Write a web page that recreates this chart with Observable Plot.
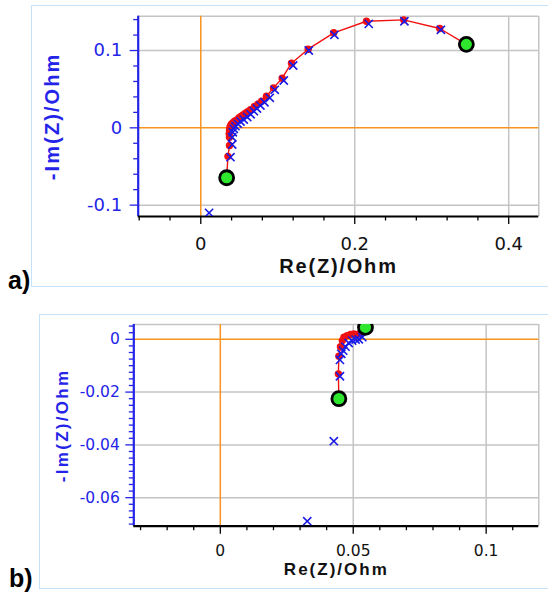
<!DOCTYPE html>
<html><head><meta charset="utf-8">
<script src="https://cdn.jsdelivr.net/npm/d3@7"></script>
<script src="https://cdn.jsdelivr.net/npm/@observablehq/plot@0.6"></script>
<style>
body{margin:0;background:#fff;}
#wrap{position:relative;width:548px;height:593px;overflow:hidden;font-family:"Liberation Sans",Arial,sans-serif;}
.frame{position:absolute;border:1.5px solid #c6e2fa;box-sizing:border-box;}
.tag{position:absolute;font-weight:bold;font-size:25px;color:#000;line-height:1;}
.panel{position:absolute;left:0;}
</style></head><body>
<div id="wrap">
  <div class="frame" style="left:31px;top:5px;width:540px;height:282px"></div>
  <div class="frame" style="left:39px;top:313.5px;width:540px;height:275.5px"></div>
  <div class="tag" style="left:8px;top:268px">a)</div>
  <div class="tag" style="left:9px;top:566px">b)</div>
  <div id="pa" class="panel" style="top:0"></div>
  <div id="pb" class="panel" style="top:300px"></div>
</div>
<script>
// ---------- Panel a data ----------
const redA_re = [0.0336, 0.0353, 0.0373, 0.0373, 0.0369, 0.0373, 0.0378, 0.0388, 0.0400, 0.0421, 0.0440, 0.0462, 0.0494, 0.0520, 0.0548, 0.0580, 0.0610, 0.0645, 0.0697, 0.0745, 0.0790, 0.0853, 0.0944, 0.1057, 0.1178, 0.1395, 0.1727, 0.2152, 0.2636, 0.3104, 0.3450];
const redA_im = [-0.0646, -0.0369, -0.0229, -0.0122, -0.0078, -0.0035, 0.0004, 0.0030, 0.0050, 0.0069, 0.0085, 0.0100, 0.0129, 0.0148, 0.0165, 0.0189, 0.0210, 0.0235, 0.0276, 0.0310, 0.0345, 0.0409, 0.0517, 0.0642, 0.0836, 0.1017, 0.1229, 0.1379, 0.1397, 0.1285, 0.1080];
const blueA_re = [0.0108, 0.0386, 0.0408, 0.0408, 0.0416, 0.0429, 0.0451, 0.0481, 0.0516, 0.0558, 0.0603, 0.0648, 0.0690, 0.0730, 0.0775, 0.0827, 0.0896, 0.0961, 0.1078, 0.1200, 0.1403, 0.1736, 0.2182, 0.2645, 0.3119];
const blueA_im = [-0.1100, -0.0380, -0.0216, -0.0122, -0.0057, -0.0013, 0.0021, 0.0052, 0.0082, 0.0107, 0.0140, 0.0175, 0.0215, 0.0250, 0.0288, 0.0331, 0.0388, 0.0492, 0.0612, 0.0806, 0.1000, 0.1203, 0.1345, 0.1379, 0.1268];
const greenA_re = [0.0336, 0.3450];
const greenA_im = [-0.0646, 0.1080];
const aXTicks = [0, 0.2, 0.4];
const aXLabels = ["0", "0.2", "0.4"];
const aYTicks = [-0.1, 0, 0.1];
const aYLabels = ["-0.1", "0", "0.1"];
const aXMinor = [-0.08, -0.04, 0.04, 0.08, 0.12, 0.16, 0.24, 0.28, 0.32, 0.36];
const aYMinor = [-0.08, -0.06, -0.04, -0.02, 0.02, 0.04, 0.06, 0.08, 0.12, 0.14];

// ---------- Panel b data ----------
const redB_re = [0.0446, 0.0444, 0.0446, 0.0452, 0.0459, 0.0465, 0.0477, 0.0490, 0.0502, 0.0515, 0.0527, 0.0546];
const redB_im = [-0.0225, -0.0131, -0.0064, -0.0028, -0.0005, 0.0008, 0.0014, 0.0018, 0.0020, 0.0018, 0.0023, 0.0045];
const blueB_re = [0.0327, 0.0427, 0.0450, 0.0450, 0.0455, 0.0462, 0.0471, 0.0483, 0.0496, 0.0509, 0.0521, 0.0534];
const blueB_im = [-0.0689, -0.0386, -0.0140, -0.0078, -0.0055, -0.0043, -0.0028, -0.0014, -0.0005, -0.0001, 0.0000, 0.0008];
const greenB_re = [0.0446, 0.0546];
const greenB_im = [-0.0225, 0.0045];
const bXTicks = [0, 0.05, 0.1];
const bXLabels = ["0", "0.05", "0.1"];
const bYTicks = [-0.06, -0.04, -0.02, 0];
const bYLabels = ["-0.06", "-0.04", "-0.02", "0"];
const bXMinor = [-0.03, -0.02, -0.01, 0.01, 0.02, 0.03, 0.04, 0.06, 0.07, 0.08, 0.09, 0.11];
const bYMinor = d3.range(-0.07, 0.0051, 0.0025).map(v => +v.toFixed(4)).filter(v => !bYTicks.some(t => Math.abs(t - v) < 1e-6));

const BLUE = "#2424e8", XBLUE = "#1a1ae6", RED = "#f01010", GREEN = "#2ee62e", ORANGE = "#f7931e", GRID = "#c4c4c4";
const FONT = "Liberation Sans, Arial, sans-serif";
const TICKFONT = "'DejaVu Sans', Verdana, sans-serif";

function pts(xs, ys) { return xs.map((x, i) => ({x, y: ys[i]})); }

function panel(o) {
  const red = pts(o.redRe, o.redIm), blue = pts(o.blueRe, o.blueIm), green = pts(o.greenRe, o.greenIm);
  const [x0, x1] = o.xDomain, [y0, y1] = o.yDomain;
  const svg = Plot.plot({
    width: 548, height: o.height,
    marginLeft: o.ml, marginRight: o.mr, marginTop: o.mt, marginBottom: o.mb,
    x: {domain: o.xDomain},
    y: {domain: o.yDomain},
    style: {background: "transparent", fontFamily: FONT, overflow: "visible"},
    marks: [
      Plot.gridX(o.xTicks.filter(d => d !== 0), {stroke: GRID, strokeOpacity: 1, strokeWidth: 1.5}),
      Plot.gridY(o.yTicks.filter(d => d !== 0), {stroke: GRID, strokeOpacity: 1, strokeWidth: 1.5}),
      Plot.ruleY([y1], {stroke: GRID, strokeWidth: 1.5}),
      Plot.ruleX([x1], {stroke: GRID, strokeWidth: 1.5}),
      Plot.ruleX([0], {stroke: ORANGE, strokeWidth: 1.5}),
      Plot.ruleY([0], {stroke: ORANGE, strokeWidth: 1.5}),
      Plot.axisY(o.yMinor, {tickSize: o.minorTick, tickFormat: () => "", color: BLUE, strokeWidth: 1.3, label: null}),
      Plot.axisY(o.yTicks, {tickSize: o.majorTick, tickPadding: o.yPad, tickFormat: d => o.yLabels[o.yTicks.indexOf(d)], color: BLUE, strokeWidth: 1.3, fontSize: o.tickFont, label: null}),
      Plot.axisX(o.xMinor, {tickSize: o.minorTick, tickFormat: () => "", color: "#000", strokeWidth: 1.3, label: null}),
      Plot.axisX(o.xTicks, {tickSize: o.majorTick, tickPadding: o.xPad, tickFormat: d => o.xLabels[o.xTicks.indexOf(d)], color: "#000", fill: "#111", strokeWidth: 1.3, fontSize: o.tickFont, label: null}),
      Plot.ruleX([x0], {stroke: BLUE, strokeWidth: 2.2}),
      Plot.ruleY([y0], {stroke: "#000", strokeWidth: 2.2}),
      Plot.line(red, {x: "x", y: "y", stroke: RED, strokeWidth: 1.4, clip: true}),
      Plot.dot(red, {x: "x", y: "y", r: 3.7, fill: RED, clip: true}),
      Plot.dot(blue, {x: "x", y: "y", r: 3.8, symbol: "times", stroke: XBLUE, strokeWidth: 1.6, clip: true}),
      Plot.dot(green, {x: "x", y: "y", r: 7, fill: GREEN, stroke: "#000", strokeWidth: 2.8, clip: true}),
      Plot.text(["Re(Z)/Ohm"], {frameAnchor: "bottom", dy: o.xTitleDy, fontSize: o.titleFont, fontWeight: "bold", fill: "#111", lineAnchor: "middle"}),
      Plot.text(["-Im(Z)/Ohm"], {frameAnchor: "left", dx: o.yTitleDx, rotate: -90, fontSize: o.titleFont, fontWeight: "bold", fill: BLUE, lineAnchor: "middle", textAnchor: "middle"})
    ]
  });
  const s = d3.select(svg);
  s.selectAll("text")
    .filter(function() { return this.textContent === "Re(Z)/Ohm"; })
    .attr("letter-spacing", o.xSpacing);
  s.selectAll("text")
    .filter(function() { return this.textContent === "-Im(Z)/Ohm"; })
    .attr("letter-spacing", o.ySpacing);
  const tickTexts = new Set([...o.xLabels, ...o.yLabels]);
  s.selectAll("text")
    .filter(function() { return tickTexts.has(this.textContent); })
    .style("font-family", TICKFONT)
    .style("font-size", o.tickFont + "px");
  return svg;
}

document.getElementById("pa").append(panel({
  height: 300, ml: 137.7, mr: 9.7, mt: 15.7, mb: 84,
  xDomain: [-0.0813, 0.4391], yDomain: [-0.1147, 0.1444],
  redRe: redA_re, redIm: redA_im, blueRe: blueA_re, blueIm: blueA_im, greenRe: greenA_re, greenIm: greenA_im,
  xTicks: aXTicks, xLabels: aXLabels, yTicks: aYTicks, yLabels: aYLabels, xMinor: aXMinor, yMinor: aYMinor,
  minorTick: 4.5, majorTick: 8, xPad: 13, yPad: 8, tickFont: 18, titleFont: 20,
  xTitleDy: 50, yTitleDx: -85.7, xSpacing: 1.8, ySpacing: 2.1
}));

document.getElementById("pb").append(panel({
  height: 293, ml: 133.3, mr: 9.7, mt: 24, mb: 67.3,
  xDomain: [-0.03254, 0.1198], yDomain: [-0.0708, 0.0056],
  redRe: redB_re, redIm: redB_im, blueRe: blueB_re, blueIm: blueB_im, greenRe: greenB_re, greenIm: greenB_im,
  xTicks: bXTicks, xLabels: bXLabels, yTicks: bYTicks, yLabels: bYLabels, xMinor: bXMinor, yMinor: bYMinor,
  minorTick: 4.5, majorTick: 8, xPad: 11, yPad: 6, tickFont: 15.5, titleFont: 17,
  xTitleDy: 43.5, yTitleDx: -71.6, xSpacing: 2, ySpacing: 2.3
}));
</script>
</body></html>
